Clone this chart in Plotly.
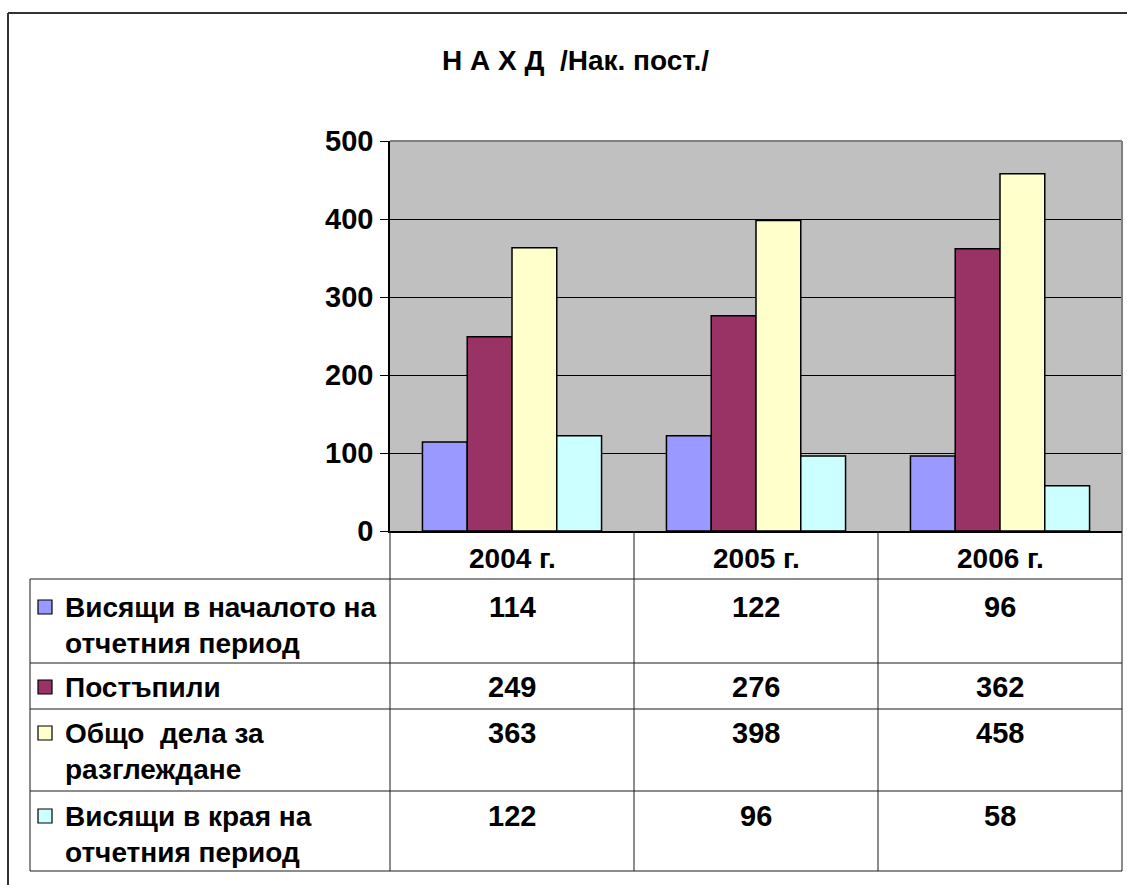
import plotly.graph_objects as go

# ---- data ----
categories = ["2004 г.", "2005 г.", "2006 г."]
series_names = [
    "Висящи в началото на<br>отчетния период",
    "Постъпили",
    "Общо  дела за<br>разглеждане",
    "Висящи в края на<br>отчетния период",
]
vals_start = [114, 122, 96]
vals_received = [249, 276, 362]
vals_total = [363, 398, 458]
vals_end = [122, 96, 58]
series_values = [vals_start, vals_received, vals_total, vals_end]
series_colors = ["#9999FF", "#993366", "#FFFFCC", "#CCFFFF"]
title_text = "Н А Х Д  /Нак. пост./"
y_ticks = [0, 100, 200, 300, 400, 500]

# ---- geometry (pixels) ----
W, H = 1127, 885
PX0, PX1, PY0, PY1 = 390, 1122, 141, 531
FONT = "Liberation Sans, Arial, sans-serif"
FS_NUM = 29
FS_TXT = 28


def xp(px):
    return (px - PX0) / (PX1 - PX0)


def yp(py):
    return (PY1 - py) / (PY1 - PY0)


fig = go.Figure()
for name, vals, col in zip(series_names, series_values, series_colors):
    fig.add_trace(go.Bar(
        x=categories, y=vals, name=name.replace("<br>", " "),
        marker=dict(color=col, line=dict(color="#000000", width=1.5)),
        showlegend=False, hoverinfo="x+y",
    ))

shapes = []
LC = "#1a1a1a"


def hline(y, x0, x1, color=LC, w=1):
    shapes.append(dict(type="line", xref="paper", yref="paper",
                       x0=xp(x0), x1=xp(x1), y0=yp(y), y1=yp(y),
                       line=dict(color=color, width=w), layer="above"))


def vline(x, y0, y1, color=LC, w=1):
    shapes.append(dict(type="line", xref="paper", yref="paper",
                       x0=xp(x), x1=xp(x), y0=yp(y0), y1=yp(y1),
                       line=dict(color=color, width=w), layer="above"))


# outer chart frame (cropped at right/bottom)
hline(13, 8, 1127, "#333333", 2)
vline(8, 13, 885, "#333333", 2)
# plot area border (gray)
hline(PY0, PX0, PX1, "#808080", 2)
vline(PX1, PY0, PY1, "#808080", 2)

# data table
row_lines = [579, 663, 709, 791, 871]
for y in row_lines:
    hline(y, 30, PX1)
vline(30, 579, 871)
col_lines = [390, 634, 878, 1122]
for x in col_lines:
    vline(x, PY1, 871)

annotations = []
annotations.append(dict(text=title_text, xref="paper", yref="paper",
                        x=xp(575), y=yp(60), showarrow=False,
                        xanchor="center", yanchor="middle",
                        font=dict(family=FONT, size=FS_TXT, color="#000", weight="bold")))

# header
for c in categories:
    annotations.append(dict(text=c, xref="x", yref="paper", x=c, y=yp(558),
                            showarrow=False, xanchor="center", yanchor="middle",
                            font=dict(family=FONT, size=FS_TXT, color="#000", weight="bold")))

row_first_center = [607, 687, 733, 816]
line_step = 36
for i, (name, vals, col) in enumerate(zip(series_names, series_values, series_colors)):
    yc = row_first_center[i]
    # legend swatch
    shapes.append(dict(type="rect", xref="paper", yref="paper",
                       x0=xp(38), x1=xp(52), y0=yp(yc - 7), y1=yp(yc + 7),
                       fillcolor=col, line=dict(color="#000", width=1.2), layer="above"))
    for k, line in enumerate(name.split("<br>")):
        annotations.append(dict(text=line, xref="paper", yref="paper",
                                x=xp(63), y=yp(yc + k * line_step), showarrow=False,
                                xanchor="left", yanchor="middle",
                                font=dict(family=FONT, size=FS_TXT, color="#000", weight="bold")))
    for c, v in zip(categories, vals):
        annotations.append(dict(text=str(v), xref="x", yref="paper", x=c, y=yp(yc),
                                showarrow=False, xanchor="center", yanchor="middle",
                                font=dict(family=FONT, size=FS_NUM, color="#000", weight="bold")))

fig.update_layout(
    width=W, height=H,
    margin=dict(l=PX0, r=W - PX1, t=PY0, b=H - PY1, pad=0),
    paper_bgcolor="#FFFFFF", plot_bgcolor="#C0C0C0",
    barmode="group", bargap=0.266, bargroupgap=0,
    shapes=shapes, annotations=annotations,
    showlegend=False,
)
fig.update_yaxes(range=[0, 500], tickvals=y_ticks, showgrid=True, gridcolor="#000000",
                 gridwidth=1, showline=True, linecolor="#000", linewidth=1.5,
                 ticks="outside", ticklen=8, tickcolor="#000", tickwidth=1,
                 ticklabelstandoff=1, zeroline=False,
                 tickfont=dict(family=FONT, size=FS_NUM, color="#000", weight="bold"))
fig.update_xaxes(showticklabels=False, showline=True, linecolor="#000", linewidth=1.5,
                 ticks="", showgrid=False, zeroline=False)

fig.write_html("out.html", config={"displayModeBar": False},
               post_script="document.body.style.margin='0';document.body.style.overflow='hidden';")
